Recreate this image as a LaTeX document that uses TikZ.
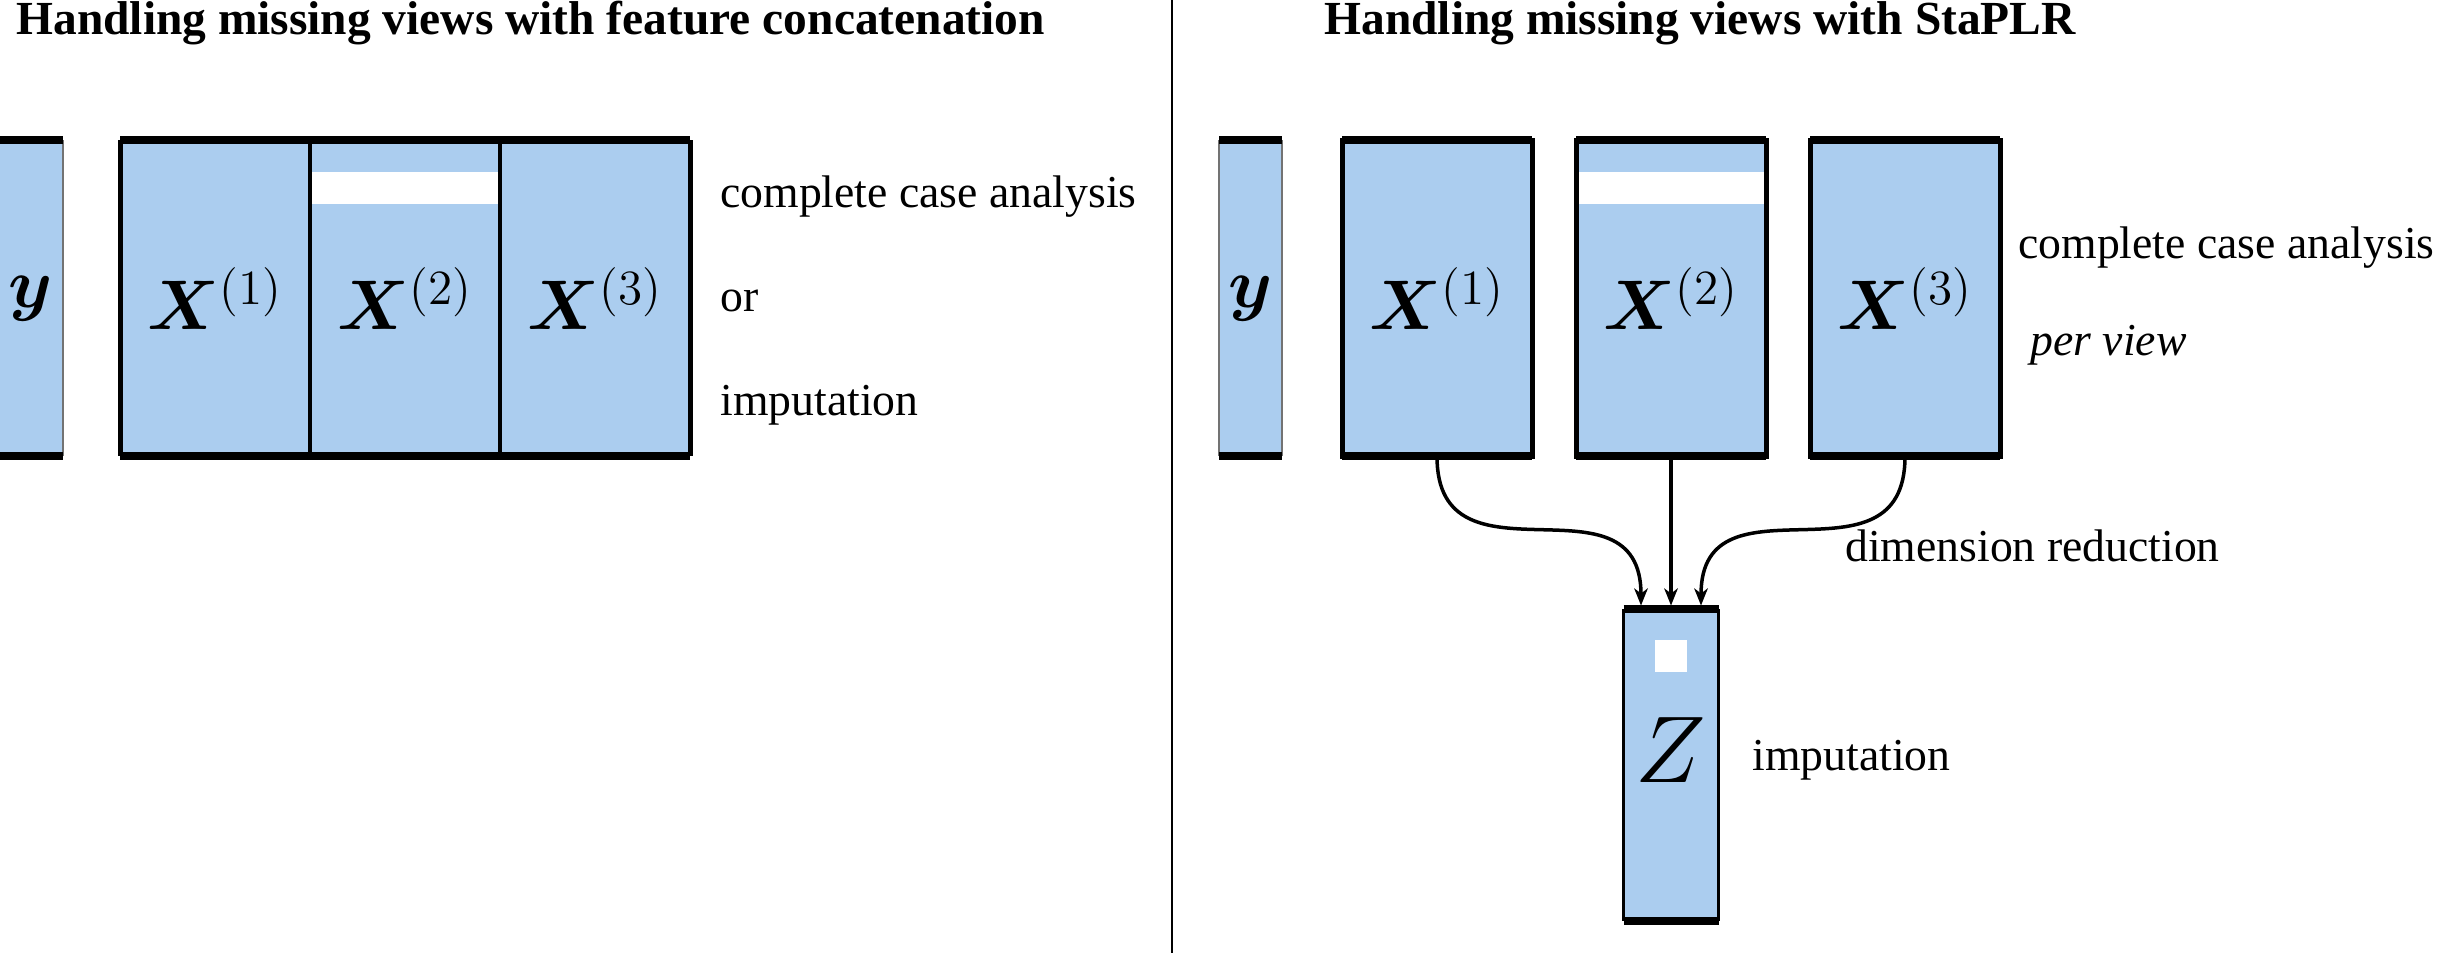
\RequirePackage{fix-cm}
\documentclass[tikz,border=0pt]{standalone}
\usepackage{amsmath, amssymb, bm}
\usepackage{fontspec}
\setmainfont{Liberation Serif}
\usetikzlibrary{arrows.meta}
\definecolor{vblue}{RGB}{171,205,239}

\begin{document}
\begin{tikzpicture}[x=0.1mm, y=0.1mm, >={Stealth[length=1.7mm, width=1.35mm, inset=0.5mm]},
         % The blocks:
         view/.style={rectangle, fill=vblue,
         inner sep=0pt, outer sep=0pt,
         minimum height=31.6mm},
         % The borders
         rim/.style={line width=0.8mm},
         side/.style={line width=0.5mm},
         thin side/.style={line width=0.12mm, draw=black!55},
         flow/.style={->, line width=0.35mm},
         % Font
         lbl/.style={anchor=base west, font=\fontsize{13}{15}\selectfont},
         ttl/.style={anchor=base west, font=\fontsize{13.5}{16}\selectfont\bfseries},
         sym/.style={font=\fontsize{20}{24}\selectfont}]
   \useasboundingbox (0,0) rectangle (2440,-953);
   \node[ttl] (title left) at (4,-35) {Handling missing views with feature concatenation};
   \node[ttl] (title right) at (1312,-35) {Handling missing views with StaPLR};
   \draw[line width=0.27mm] (1172,0) -- (1172,-953);
   \begin{scope}
      % feature concatenation
      \node[view, minimum width=6.4mm, sym] (ly) at (31,-298.5) {$\bm{y}$};
      \foreach \x \n in {215/1, 405/2, 595/3}{
         \node[view, minimum width=19mm, sym] (lx\n) at (\x,-298.5) {$\bm{X}^{(\n)}$};
      };
      \fill[white] ([yshift=-3.15mm]lx2.north west) rectangle ([yshift=-6.35mm]lx2.north east);
      \draw[thin side] (ly.north west) -- (ly.south west) (ly.north east) -- (ly.south east);
      \draw[rim] (ly.north west) -- (ly.north east) (ly.south west) -- (ly.south east);
      \draw[side] (lx1.north west) -- (lx1.south west) (lx3.north east) -- (lx3.south east);
      \draw[line width=0.35mm] (lx1.north east) -- (lx1.south east) (lx2.north east) -- (lx2.south east);
      \draw[rim] (lx1.north west) -- (lx3.north east) (lx1.south west) -- (lx3.south east);
      \node[lbl] (cca left) at (708,-208) {complete case analysis};
      \node[lbl] (or left) at (708,-312) {or};
      \node[lbl] (imp left) at (708,-416) {imputation};
   \end{scope}
   \begin{scope}
      % StaPLR
      \node[view, minimum width=6.3mm, sym] (ry) at (1250.5,-298.5) {$\bm{y}$};
      \draw[thin side] (ry.north west) -- (ry.south west) (ry.north east) -- (ry.south east);
      \draw[rim] (ry.north west) -- (ry.north east) (ry.south west) -- (ry.south east);
      \foreach \x \n in {1437/1, 1671/2, 1905/3}{
         \node[view, minimum width=19mm, sym, draw, line width=0.5mm] (rx\n) at (\x,-298.5) {$\bm{X}^{(\n)}$};
         \draw[rim] (rx\n.north west) -- (rx\n.north east) (rx\n.south west) -- (rx\n.south east);
      };
      \fill[white] ([xshift=0.25mm, yshift=-3.15mm]rx2.north west) rectangle ([xshift=-0.25mm, yshift=-6.35mm]rx2.north east);
      \node[view, minimum width=9.5mm, minimum height=31.2mm] (z) at (1671,-765.5) {};
      \node[fill=white, inner sep=0pt, minimum size=3.15mm] (z gap) at ([yshift=-4.65mm]z.north) {};
      \node[font=\fontsize{27}{30}\selectfont] (z lbl) at ([yshift=1.55mm]z.center) {$Z$};
      \draw[line width=0.28mm] (z.north west) -- (z.south west) (z.north east) -- (z.south east);
      \draw[rim] (z.north west) -- (z.north east) (z.south west) -- (z.south east);
      \draw[flow] (rx1.south) to[out=-90, in=90, looseness=1.4] ([xshift=-3mm, yshift=0.4mm]z.north);
      \draw[flow] (rx2.south) -- ([yshift=0.4mm]z.north);
      \draw[flow] (rx3.south) to[out=-90, in=90, looseness=1.4] ([xshift=3mm, yshift=0.4mm]z.north);
      \node[lbl] (cca right) at (2006,-259) {complete case analysis};
      \node[lbl, font=\fontsize{13}{15}\selectfont\itshape] (per view) at (2018,-356) {per view};
      \node[lbl] (dim red) at (1833,-562) {dimension reduction};
      \node[lbl] (imp right) at (1740,-771) {imputation};
   \end{scope}
\end{tikzpicture}
\end{document}
